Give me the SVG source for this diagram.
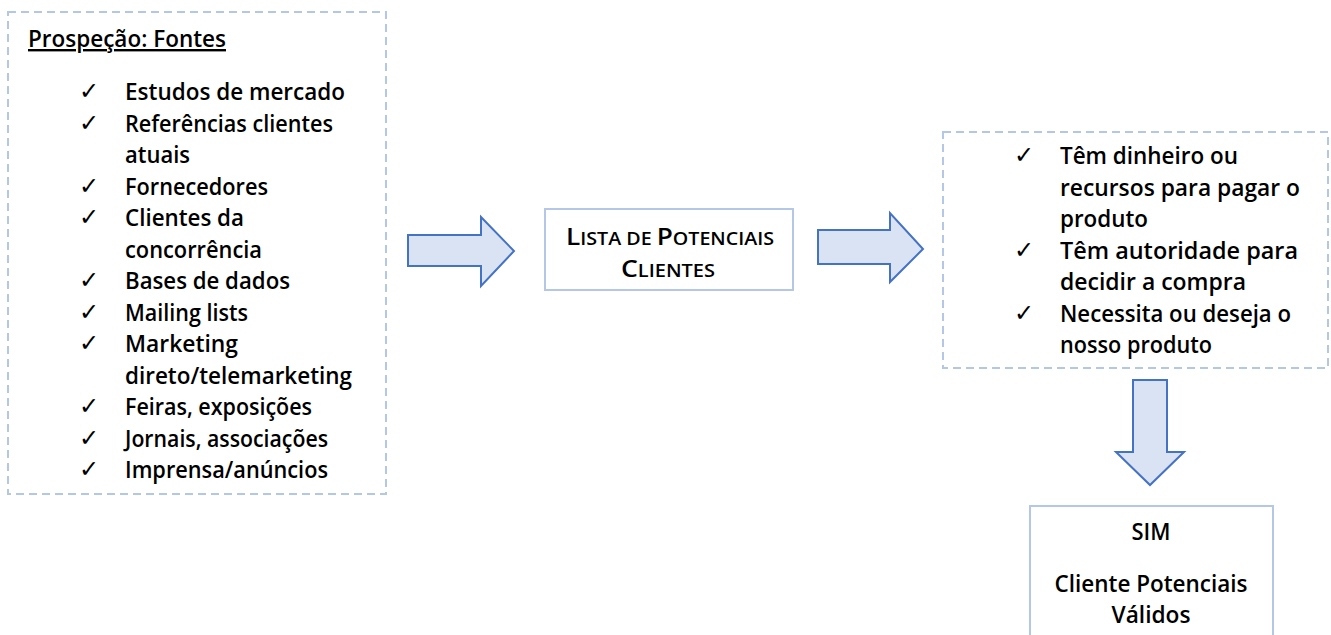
<svg xmlns="http://www.w3.org/2000/svg" width="1331" height="635" viewBox="0 0 1331 635">
<style>
.dash{fill:#ffffff;stroke:#b4c7e7;stroke-width:2;stroke-dasharray:8 5}
.solid{fill:#ffffff;stroke:#b4c7e7;stroke-width:2}
.arrow{fill:#dae3f3;stroke:#4472c4;stroke-width:2;stroke-linejoin:miter}
.t{font-family:"Open Sans","Liberation Sans",sans-serif;font-size:24px;font-weight:600;fill:#000}
.ck{font-family:"DejaVu Sans",sans-serif;font-size:24px;fill:#000}
.c{text-anchor:middle}
</style>
<rect width="1331" height="635" fill="#ffffff"/>
<g id="fontes">
<rect class="dash" x="8" y="12" width="378" height="482"/>
<text class="t" x="28" y="47" text-decoration="underline" textLength="198" lengthAdjust="spacingAndGlyphs">Prospeção: Fontes</text>
<g class="ck">
<text x="79" y="99">✓</text><text x="79" y="130.5">✓</text><text x="79" y="193.5">✓</text><text x="79" y="225">✓</text><text x="79" y="288">✓</text><text x="79" y="319.5">✓</text><text x="79" y="351">✓</text><text x="79" y="414">✓</text><text x="79" y="445.5">✓</text><text x="79" y="477">✓</text>
</g>
<text class="t" x="125" y="100" textLength="220" lengthAdjust="spacingAndGlyphs">Estudos de mercado</text>
<text class="t" x="125" y="131.5" textLength="208" lengthAdjust="spacingAndGlyphs">Referências clientes</text>
<text class="t" x="125" y="163" textLength="65" lengthAdjust="spacingAndGlyphs">atuais</text>
<text class="t" x="125" y="194.5" textLength="143" lengthAdjust="spacingAndGlyphs">Fornecedores</text>
<text class="t" x="125" y="226" textLength="119" lengthAdjust="spacingAndGlyphs">Clientes da</text>
<text class="t" x="125" y="257.5" textLength="137" lengthAdjust="spacingAndGlyphs">concorrência</text>
<text class="t" x="125" y="289" textLength="165" lengthAdjust="spacingAndGlyphs">Bases de dados</text>
<text class="t" x="125" y="320.5" textLength="123" lengthAdjust="spacingAndGlyphs">Mailing lists</text>
<text class="t" x="125" y="352" textLength="113" lengthAdjust="spacingAndGlyphs">Marketing</text>
<text class="t" x="125" y="383.5" textLength="227" lengthAdjust="spacingAndGlyphs">direto/telemarketing</text>
<text class="t" x="125" y="415" textLength="187" lengthAdjust="spacingAndGlyphs">Feiras, exposições</text>
<text class="t" x="125" y="446.5" textLength="203" lengthAdjust="spacingAndGlyphs">Jornais, associações</text>
<text class="t" x="125" y="478" textLength="203" lengthAdjust="spacingAndGlyphs">Imprensa/anúncios</text>
</g>
<g id="lista">
<rect class="solid" x="545" y="209" width="248" height="81"/>
<text class="t" x="566" y="245" font-size="23" textLength="208" lengthAdjust="spacingAndGlyphs"><tspan>L</tspan><tspan font-size="18">ISTA DE </tspan><tspan>P</tspan><tspan font-size="18">OTENCIAIS</tspan></text>
<text class="t" x="621" y="277" font-size="23" textLength="94" lengthAdjust="spacingAndGlyphs"><tspan>C</tspan><tspan font-size="18">LIENTES</tspan></text>
</g>
<g id="criterios">
<rect class="dash" x="943" y="132" width="385" height="236"/>
<g class="ck">
<text x="1014" y="163">✓</text><text x="1014" y="257.5">✓</text><text x="1014" y="320.5">✓</text>
</g>
<text class="t" x="1060" y="164" textLength="178" lengthAdjust="spacingAndGlyphs">Têm dinheiro ou</text>
<text class="t" x="1060" y="195.5" textLength="240" lengthAdjust="spacingAndGlyphs">recursos para pagar o</text>
<text class="t" x="1060" y="227" textLength="88" lengthAdjust="spacingAndGlyphs">produto</text>
<text class="t" x="1060" y="258.5" textLength="238" lengthAdjust="spacingAndGlyphs">Têm autoridade para</text>
<text class="t" x="1060" y="290" textLength="186" lengthAdjust="spacingAndGlyphs">decidir a compra</text>
<text class="t" x="1060" y="321.5" textLength="231" lengthAdjust="spacingAndGlyphs">Necessita ou deseja o</text>
<text class="t" x="1060" y="353" textLength="152" lengthAdjust="spacingAndGlyphs">nosso produto</text>
</g>
<g id="validos">
<rect class="solid" x="1030" y="506" width="243" height="140"/>
<text class="t c" x="1151" y="540" textLength="39" lengthAdjust="spacingAndGlyphs">SIM</text>
<text class="t c" x="1151" y="592" font-size="22" textLength="193" lengthAdjust="spacingAndGlyphs">Cliente Potenciais</text>
<text class="t c" x="1151" y="623" font-size="22" textLength="79" lengthAdjust="spacingAndGlyphs">Válidos</text>
</g>
<g id="connectors">
<path class="arrow" d="M408,235 H481 V217 L514,251 L481,286 V266 H408 Z"/>
<path class="arrow" d="M818,230 H890 V213 L923,249 L890,282 V264 H818 Z"/>
<path class="arrow" d="M1133,380 H1167 V452 H1184 L1150,485 L1116,452 H1133 Z"/>
</g>
</svg>
